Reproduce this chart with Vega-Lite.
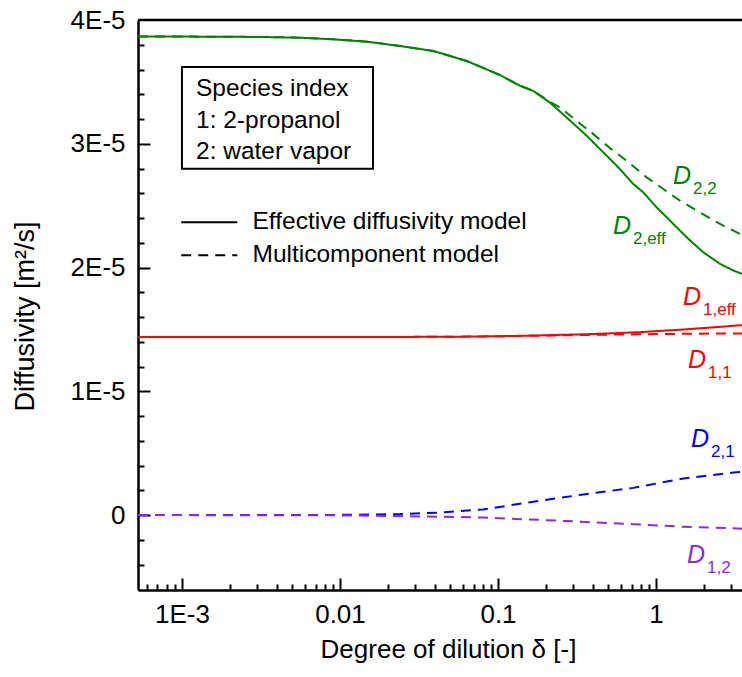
{
  "$schema": "https://vega.github.io/schema/vega-lite/v6.json",
  "width": 604,
  "height": 570,
  "autosize": {"type": "none"},
  "padding": {"left": 138, "top": 20, "right": 0, "bottom": 87},
  "background": "white",
  "config": {
    "view": {"stroke": null},
    "font": "Liberation Sans",
    "axis": {"grid": false, "domainColor": "black", "domainWidth": 2.5, "tickColor": "black", "tickWidth": 2, "labelColor": "black", "titleColor": "black", "titleFontWeight": "normal", "labelFont": "Liberation Sans", "titleFont": "Liberation Sans"}
  },
  "resolve": {"axis": {"x": "independent", "y": "independent"}},
  "datasets": {
    "curves": [
      {"series": "D2,eff", "model": "Effective diffusivity model", "x": 0.000527, "y": 3.866e-5},
      {"series": "D2,eff", "model": "Effective diffusivity model", "x": 0.001, "y": 3.866e-5},
      {"series": "D2,eff", "model": "Effective diffusivity model", "x": 0.002, "y": 3.865e-5},
      {"series": "D2,eff", "model": "Effective diffusivity model", "x": 0.004, "y": 3.861e-5},
      {"series": "D2,eff", "model": "Effective diffusivity model", "x": 0.00558, "y": 3.857e-5},
      {"series": "D2,eff", "model": "Effective diffusivity model", "x": 0.00907, "y": 3.844e-5},
      {"series": "D2,eff", "model": "Effective diffusivity model", "x": 0.01476, "y": 3.825e-5},
      {"series": "D2,eff", "model": "Effective diffusivity model", "x": 0.024, "y": 3.79e-5},
      {"series": "D2,eff", "model": "Effective diffusivity model", "x": 0.0389, "y": 3.75e-5},
      {"series": "D2,eff", "model": "Effective diffusivity model", "x": 0.0634, "y": 3.669e-5},
      {"series": "D2,eff", "model": "Effective diffusivity model", "x": 0.103, "y": 3.555e-5},
      {"series": "D2,eff", "model": "Effective diffusivity model", "x": 0.138, "y": 3.468e-5},
      {"series": "D2,eff", "model": "Effective diffusivity model", "x": 0.167, "y": 3.427e-5},
      {"series": "D2,eff", "model": "Effective diffusivity model", "x": 0.213, "y": 3.333e-5},
      {"series": "D2,eff", "model": "Effective diffusivity model", "x": 0.272, "y": 3.212e-5},
      {"series": "D2,eff", "model": "Effective diffusivity model", "x": 0.364, "y": 3.065e-5},
      {"series": "D2,eff", "model": "Effective diffusivity model", "x": 0.442, "y": 2.957e-5},
      {"series": "D2,eff", "model": "Effective diffusivity model", "x": 0.564, "y": 2.823e-5},
      {"series": "D2,eff", "model": "Effective diffusivity model", "x": 0.718, "y": 2.675e-5},
      {"series": "D2,eff", "model": "Effective diffusivity model", "x": 0.831, "y": 2.607e-5},
      {"series": "D2,eff", "model": "Effective diffusivity model", "x": 1.01, "y": 2.486e-5},
      {"series": "D2,eff", "model": "Effective diffusivity model", "x": 1.227, "y": 2.379e-5},
      {"series": "D2,eff", "model": "Effective diffusivity model", "x": 1.564, "y": 2.244e-5},
      {"series": "D2,eff", "model": "Effective diffusivity model", "x": 1.992, "y": 2.123e-5},
      {"series": "D2,eff", "model": "Effective diffusivity model", "x": 2.541, "y": 2.03e-5},
      {"series": "D2,eff", "model": "Effective diffusivity model", "x": 3.085, "y": 1.976e-5},
      {"series": "D2,eff", "model": "Effective diffusivity model", "x": 3.5, "y": 1.949e-5},

      {"series": "D2,2", "model": "Multicomponent model", "x": 0.000527, "y": 3.866e-5},
      {"series": "D2,2", "model": "Multicomponent model", "x": 0.001, "y": 3.866e-5},
      {"series": "D2,2", "model": "Multicomponent model", "x": 0.002, "y": 3.865e-5},
      {"series": "D2,2", "model": "Multicomponent model", "x": 0.004, "y": 3.861e-5},
      {"series": "D2,2", "model": "Multicomponent model", "x": 0.00558, "y": 3.857e-5},
      {"series": "D2,2", "model": "Multicomponent model", "x": 0.00907, "y": 3.844e-5},
      {"series": "D2,2", "model": "Multicomponent model", "x": 0.01476, "y": 3.825e-5},
      {"series": "D2,2", "model": "Multicomponent model", "x": 0.024, "y": 3.79e-5},
      {"series": "D2,2", "model": "Multicomponent model", "x": 0.0389, "y": 3.75e-5},
      {"series": "D2,2", "model": "Multicomponent model", "x": 0.0634, "y": 3.669e-5},
      {"series": "D2,2", "model": "Multicomponent model", "x": 0.103, "y": 3.555e-5},
      {"series": "D2,2", "model": "Multicomponent model", "x": 0.138, "y": 3.47e-5},
      {"series": "D2,2", "model": "Multicomponent model", "x": 0.167, "y": 3.428e-5},
      {"series": "D2,2", "model": "Multicomponent model", "x": 0.213, "y": 3.34e-5},
      {"series": "D2,2", "model": "Multicomponent model", "x": 0.247, "y": 3.293e-5},
      {"series": "D2,2", "model": "Multicomponent model", "x": 0.315, "y": 3.185e-5},
      {"series": "D2,2", "model": "Multicomponent model", "x": 0.401, "y": 3.078e-5},
      {"series": "D2,2", "model": "Multicomponent model", "x": 0.512, "y": 2.965e-5},
      {"series": "D2,2", "model": "Multicomponent model", "x": 0.652, "y": 2.863e-5},
      {"series": "D2,2", "model": "Multicomponent model", "x": 0.873, "y": 2.728e-5},
      {"series": "D2,2", "model": "Multicomponent model", "x": 1.112, "y": 2.635e-5},
      {"series": "D2,2", "model": "Multicomponent model", "x": 1.419, "y": 2.54e-5},
      {"series": "D2,2", "model": "Multicomponent model", "x": 1.897, "y": 2.446e-5},
      {"series": "D2,2", "model": "Multicomponent model", "x": 2.541, "y": 2.352e-5},
      {"series": "D2,2", "model": "Multicomponent model", "x": 3.4, "y": 2.272e-5},
      {"series": "D2,2", "model": "Multicomponent model", "x": 3.5, "y": 2.265e-5},

      {"series": "D1,eff", "model": "Effective diffusivity model", "x": 0.000527, "y": 1.438e-5},
      {"series": "D1,eff", "model": "Effective diffusivity model", "x": 0.01, "y": 1.438e-5},
      {"series": "D1,eff", "model": "Effective diffusivity model", "x": 0.05, "y": 1.441e-5},
      {"series": "D1,eff", "model": "Effective diffusivity model", "x": 0.1, "y": 1.445e-5},
      {"series": "D1,eff", "model": "Effective diffusivity model", "x": 0.184, "y": 1.452e-5},
      {"series": "D1,eff", "model": "Effective diffusivity model", "x": 0.4, "y": 1.463e-5},
      {"series": "D1,eff", "model": "Effective diffusivity model", "x": 0.79, "y": 1.478e-5},
      {"series": "D1,eff", "model": "Effective diffusivity model", "x": 1.5, "y": 1.5e-5},
      {"series": "D1,eff", "model": "Effective diffusivity model", "x": 2.5, "y": 1.52e-5},
      {"series": "D1,eff", "model": "Effective diffusivity model", "x": 3.5, "y": 1.535e-5},

      {"series": "D1,1", "model": "Multicomponent model", "x": 0.000527, "y": 1.438e-5},
      {"series": "D1,1", "model": "Multicomponent model", "x": 0.01, "y": 1.438e-5},
      {"series": "D1,1", "model": "Multicomponent model", "x": 0.05, "y": 1.441e-5},
      {"series": "D1,1", "model": "Multicomponent model", "x": 0.1, "y": 1.445e-5},
      {"series": "D1,1", "model": "Multicomponent model", "x": 0.184, "y": 1.45e-5},
      {"series": "D1,1", "model": "Multicomponent model", "x": 0.4, "y": 1.456e-5},
      {"series": "D1,1", "model": "Multicomponent model", "x": 0.79, "y": 1.461e-5},
      {"series": "D1,1", "model": "Multicomponent model", "x": 1.5, "y": 1.465e-5},
      {"series": "D1,1", "model": "Multicomponent model", "x": 3.5, "y": 1.468e-5},

      {"series": "D2,1", "model": "Multicomponent model", "x": 0.000527, "y": 0},
      {"series": "D2,1", "model": "Multicomponent model", "x": 0.001, "y": 0},
      {"series": "D2,1", "model": "Multicomponent model", "x": 0.003, "y": 5e-9},
      {"series": "D2,1", "model": "Multicomponent model", "x": 0.006, "y": 1e-8},
      {"series": "D2,1", "model": "Multicomponent model", "x": 0.01, "y": 2e-8},
      {"series": "D2,1", "model": "Multicomponent model", "x": 0.024, "y": 8e-8},
      {"series": "D2,1", "model": "Multicomponent model", "x": 0.045, "y": 2.2e-7},
      {"series": "D2,1", "model": "Multicomponent model", "x": 0.0807, "y": 4.6e-7},
      {"series": "D2,1", "model": "Multicomponent model", "x": 0.167, "y": 1.08e-6},
      {"series": "D2,1", "model": "Multicomponent model", "x": 0.347, "y": 1.67e-6},
      {"series": "D2,1", "model": "Multicomponent model", "x": 0.718, "y": 2.2e-6},
      {"series": "D2,1", "model": "Multicomponent model", "x": 1.489, "y": 2.96e-6},
      {"series": "D2,1", "model": "Multicomponent model", "x": 3.09, "y": 3.44e-6},
      {"series": "D2,1", "model": "Multicomponent model", "x": 3.5, "y": 3.5e-6},

      {"series": "D1,2", "model": "Multicomponent model", "x": 0.000527, "y": 0},
      {"series": "D1,2", "model": "Multicomponent model", "x": 0.001, "y": 0},
      {"series": "D1,2", "model": "Multicomponent model", "x": 0.003, "y": -5e-9},
      {"series": "D1,2", "model": "Multicomponent model", "x": 0.006, "y": -1e-8},
      {"series": "D1,2", "model": "Multicomponent model", "x": 0.01, "y": -2e-8},
      {"series": "D1,2", "model": "Multicomponent model", "x": 0.024, "y": -8e-8},
      {"series": "D1,2", "model": "Multicomponent model", "x": 0.0807, "y": -1.9e-7},
      {"series": "D1,2", "model": "Multicomponent model", "x": 0.272, "y": -4.8e-7},
      {"series": "D1,2", "model": "Multicomponent model", "x": 0.718, "y": -7.3e-7},
      {"series": "D1,2", "model": "Multicomponent model", "x": 1.489, "y": -9.4e-7},
      {"series": "D1,2", "model": "Multicomponent model", "x": 3.09, "y": -1.07e-6},
      {"series": "D1,2", "model": "Multicomponent model", "x": 3.5, "y": -1.1e-6}
    ],
    "labels": [
      {"series": "D2,2", "sub": "2,2", "x": 1.281, "y": 2.677e-5},
      {"series": "D2,eff", "sub": "2,eff", "x": 0.534, "y": 2.274e-5},
      {"series": "D1,eff", "sub": "1,eff", "x": 1.482, "y": 1.694e-5},
      {"series": "D1,1", "sub": "1,1", "x": 1.594, "y": 1.185e-5},
      {"series": "D2,1", "sub": "2,1", "x": 1.665, "y": 0.548e-5},
      {"series": "D1,2", "sub": "1,2", "x": 1.571, "y": -0.387e-5}
    ]
  },
  "layer": [
    {
      "data": {"name": "curves"},
      "mark": {"type": "line", "strokeWidth": 2, "clip": true},
      "encoding": {
        "x": {
          "field": "x", "type": "quantitative",
          "scale": {"type": "log", "domain": [0.000527, 3.5], "nice": false},
          "axis": {
            "orient": "bottom",
            "title": "Degree of dilution δ  [-]",
            "values": [0.001, 0.01, 0.1, 1],
            "labelExpr": "datum.value == 0.001 ? '1E-3' : datum.value == 0.01 ? '0.01' : datum.value == 0.1 ? '0.1' : '1'",
            "labelOverlap": false,
            "labelFlush": false,
            "ticks": false,
            "labelFontSize": 26,
            "labelPadding": 11,
            "titleFontSize": 26,
            "titleBaseline": "top",
            "titleAlign": "center",
            "titleX": 310,
            "titleY": 46
          }
        },
        "y": {
          "field": "y", "type": "quantitative",
          "scale": {"domain": [-0.00000605, 0.00004], "nice": false, "zero": false},
          "axis": {
            "orient": "left",
            "title": "Diffusivity  [m²/s]",
            "values": [0, 0.00001, 0.00002, 0.00003, 0.00004],
            "labelExpr": "round(datum.value*1e5) == 0 ? '0' : round(datum.value*1e5) + 'E-5'",
            "labelOverlap": false,
            "labelFlush": false,
            "ticks": false,
            "labelFontSize": 26,
            "labelPadding": 13,
            "titleFontSize": 27,
            "titleAngle": 270,
            "titleAlign": "center",
            "titleBaseline": "alphabetic",
            "titleX": -105,
            "titleY": 296
          }
        },
        "color": {
          "field": "series", "type": "nominal",
          "scale": {"domain": ["D2,eff", "D2,2", "D1,eff", "D1,1", "D2,1", "D1,2"], "range": ["#008000", "#008000", "#ff0000", "#ff0000", "#0000ff", "#8a2be2"]},
          "legend": null
        },
        "strokeDash": {
          "field": "model", "type": "nominal",
          "scale": {"domain": ["Effective diffusivity model", "Multicomponent model"], "range": [[1, 0], [10, 7]]},
          "legend": {
            "orient": "none",
            "legendX": 59,
            "legendY": 190,
            "title": null,
            "padding": 0,
            "symbolType": "M-5.6,0H5.6",
            "symbolSize": 100,
            "symbolStrokeColor": "black",
            "symbolStrokeWidth": 2,
            "labelFontSize": 24.5,
            "labelFont": "Liberation Sans",
            "labelColor": "black",
            "labelOffset": 31,
            "labelLimit": 500,
            "rowPadding": 8
          }
        }
      }
    },
    {
      "data": {"values": [{}]},
      "mark": {"type": "rule", "strokeWidth": 2.5, "color": "black"},
      "encoding": {"y": {"datum": 0.00004, "axis": null}}
    },
    {
      "data": {"values": [{}]},
      "mark": {"type": "rect", "fill": null, "fillOpacity": 0, "stroke": "black", "strokeWidth": 2},
      "encoding": {
        "x": {"datum": 0.001, "axis": null},
        "x2": {"datum": 0.01618},
        "y": {"datum": 0.00003621, "axis": null},
        "y2": {"datum": 0.00002798}
      }
    },
    {
      "data": {"values": [{"text": "Species index\n1: 2-propanol\n2: water vapor"}]},
      "mark": {"type": "text", "align": "left", "baseline": "alphabetic", "lineBreak": "\n", "lineHeight": 31.7, "fontSize": 24.5, "font": "Liberation Sans", "color": "black"},
      "encoding": {
        "x": {"datum": 0.001227, "axis": null},
        "y": {"datum": 0.00003387, "axis": null},
        "text": {"field": "text"}
      }
    },
    {
      "data": {"name": "labels"},
      "mark": {"type": "text", "text": "D", "align": "left", "baseline": "alphabetic", "fontSize": 25, "fontStyle": "italic", "font": "Liberation Sans"},
      "encoding": {
        "x": {
          "field": "x", "type": "quantitative",
          "axis": {
            "orient": "bottom",
            "title": null,
            "labels": false,
            "domain": false,
            "offset": -12,
            "tickSize": 12,
            "values": [0.001, 0.01, 0.1, 1]
          }
        },
        "y": {
          "field": "y", "type": "quantitative",
          "axis": {
            "orient": "left",
            "title": null,
            "labels": false,
            "domain": false,
            "offset": -12,
            "tickSize": 12,
            "values": [0, 0.00001, 0.00002, 0.00003]
          }
        },
        "color": {"field": "series", "type": "nominal"}
      }
    },
    {
      "data": {"name": "labels"},
      "mark": {"type": "text", "align": "left", "baseline": "alphabetic", "fontSize": 17, "font": "Liberation Sans", "dx": 20, "dy": 10},
      "encoding": {
        "x": {
          "field": "x", "type": "quantitative",
          "axis": {
            "orient": "bottom",
            "title": null,
            "labels": false,
            "domain": false,
            "offset": -6,
            "tickSize": 6,
            "values": [0.0006, 0.0007, 0.0008, 0.0009, 0.002, 0.003, 0.004, 0.005, 0.006, 0.007, 0.008, 0.009, 0.02, 0.03, 0.04, 0.05, 0.06, 0.07, 0.08, 0.09, 0.2, 0.3, 0.4, 0.5, 0.6, 0.7, 0.8, 0.9, 2, 3]
          }
        },
        "y": {
          "field": "y", "type": "quantitative",
          "axis": {
            "orient": "left",
            "title": null,
            "labels": false,
            "domain": false,
            "offset": -6,
            "tickSize": 6,
            "values": [-0.000004, -0.000002, 0.000002, 0.000004, 0.000006, 0.000008, 0.000012, 0.000014, 0.000016, 0.000018, 0.000022, 0.000024, 0.000026, 0.000028, 0.000032, 0.000034, 0.000036, 0.000038]
          }
        },
        "text": {"field": "sub"},
        "color": {"field": "series", "type": "nominal"}
      }
    }
  ]
}
